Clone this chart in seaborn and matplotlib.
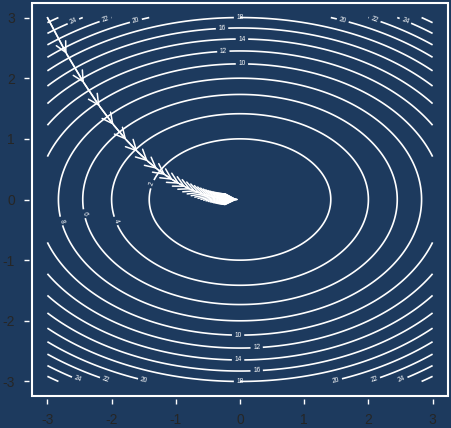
import numpy as np
import matplotlib
matplotlib.use("Agg")
import matplotlib.pyplot as plt
import seaborn as sns
import pandas as pd

# ---- data ----
x_range = [-3.0, 3.0]
y_range = [-3.0, 3.0]
a_coef = 1.0          # f(x, y) = a*x^2 + b*y^2
b_coef = 2.0
levels = [2, 4, 6, 8, 10, 12, 14, 16, 18, 20, 22, 24, 26]
start_point = [-3.0, 3.0]
learning_rate = 0.05
n_steps = 40
x_ticks = [-3, -2, -1, 0, 1, 2, 3]
y_ticks = [-3, -2, -1, 0, 1, 2, 3]

label_spots = [(-2.6, 2.95), (-2.1, 2.98), (-1.63, 2.98), (0.0, 3.0), (-0.28, 2.83),
               (0.03, 2.64), (-0.26, 2.45), (0.03, 2.24), (1.6, 2.95), (2.1, 2.97),
               (2.57, 2.93), (-2.54, -3.0), (-2.1, -3.0), (-1.5, -3.0), (-0.03, -2.26),
               (0.26, -2.45), (-0.03, -2.65), (0.26, -2.83), (0.0, -3.0), (1.5, -3.0),
               (2.1, -3.0), (2.53, -3.0), (-2.8, -0.36), (-2.45, -0.24), (-1.95, -0.36),
               (-1.36, 0.25)]

# ---- compute surface and descent path ----
gx = np.linspace(x_range[0], x_range[1], 301)
gy = np.linspace(y_range[0], y_range[1], 301)
X, Y = np.meshgrid(gx, gy)
Z = a_coef * X**2 + b_coef * Y**2

px, py = [start_point[0]], [start_point[1]]
for _ in range(n_steps):
    cx, cy = px[-1], py[-1]
    px.append(cx - learning_rate * 2 * a_coef * cx)
    py.append(cy - learning_rate * 2 * b_coef * cy)
path = pd.DataFrame({"x": px, "y": py})

# ---- style ----
bg = "#1d3a5e"
sns.set_style("white")
plt.rcParams["font.family"] = ["Liberation Sans", "DejaVu Sans"]

fig = plt.figure(figsize=(4.52, 4.28), dpi=100, facecolor=bg)
ax = fig.add_axes([32 / 452, 32 / 428, 416 / 452, 393 / 428])
ax.set_facecolor(bg)

cs = ax.contour(X, Y, Z, levels=levels, colors="white", linewidths=1.2)
ax.clabel(cs, fmt="%d", fontsize=4.8, colors="white", inline=True,
          inline_spacing=3, manual=label_spots)

sns.lineplot(data=path, x="x", y="y", sort=False, estimator=None,
             color="white", lw=1.1, ax=ax, legend=False)
for i in range(len(px) - 1):
    ax.annotate("", xy=(px[i + 1], py[i + 1]), xytext=(px[i], py[i]),
                arrowprops=dict(arrowstyle="->,head_length=0.75,head_width=0.38",
                                color="white", lw=1.1, shrinkA=0, shrinkB=0))

ax.set_xlim(-3.24, 3.24)
ax.set_ylim(-3.24, 3.24)
ax.set_xlabel("")
ax.set_ylabel("")
ax.set_xticks(x_ticks)
ax.set_yticks(y_ticks)
ax.set_xticklabels([str(t) for t in x_ticks], fontsize=9.5, color="white")
ax.set_yticklabels([str(t) for t in y_ticks], fontsize=9.5, color="white",
                   rotation=90, va="center")
for side in ["bottom", "left"]:
    ax.spines[side].set_position(("outward", 2))
for s in ax.spines.values():
    s.set_visible(False)
ax.tick_params(axis="both", which="both", direction="out", length=3.8,
               width=1.0, color="white", bottom=True, left=True, pad=6.5)

box = plt.Rectangle((0, 0), 1, 1, transform=ax.transAxes, fill=False,
                    edgecolor="white", lw=1.5, clip_on=False)
ax.add_patch(box)

fig.savefig("out.png", dpi=100, facecolor=bg)
